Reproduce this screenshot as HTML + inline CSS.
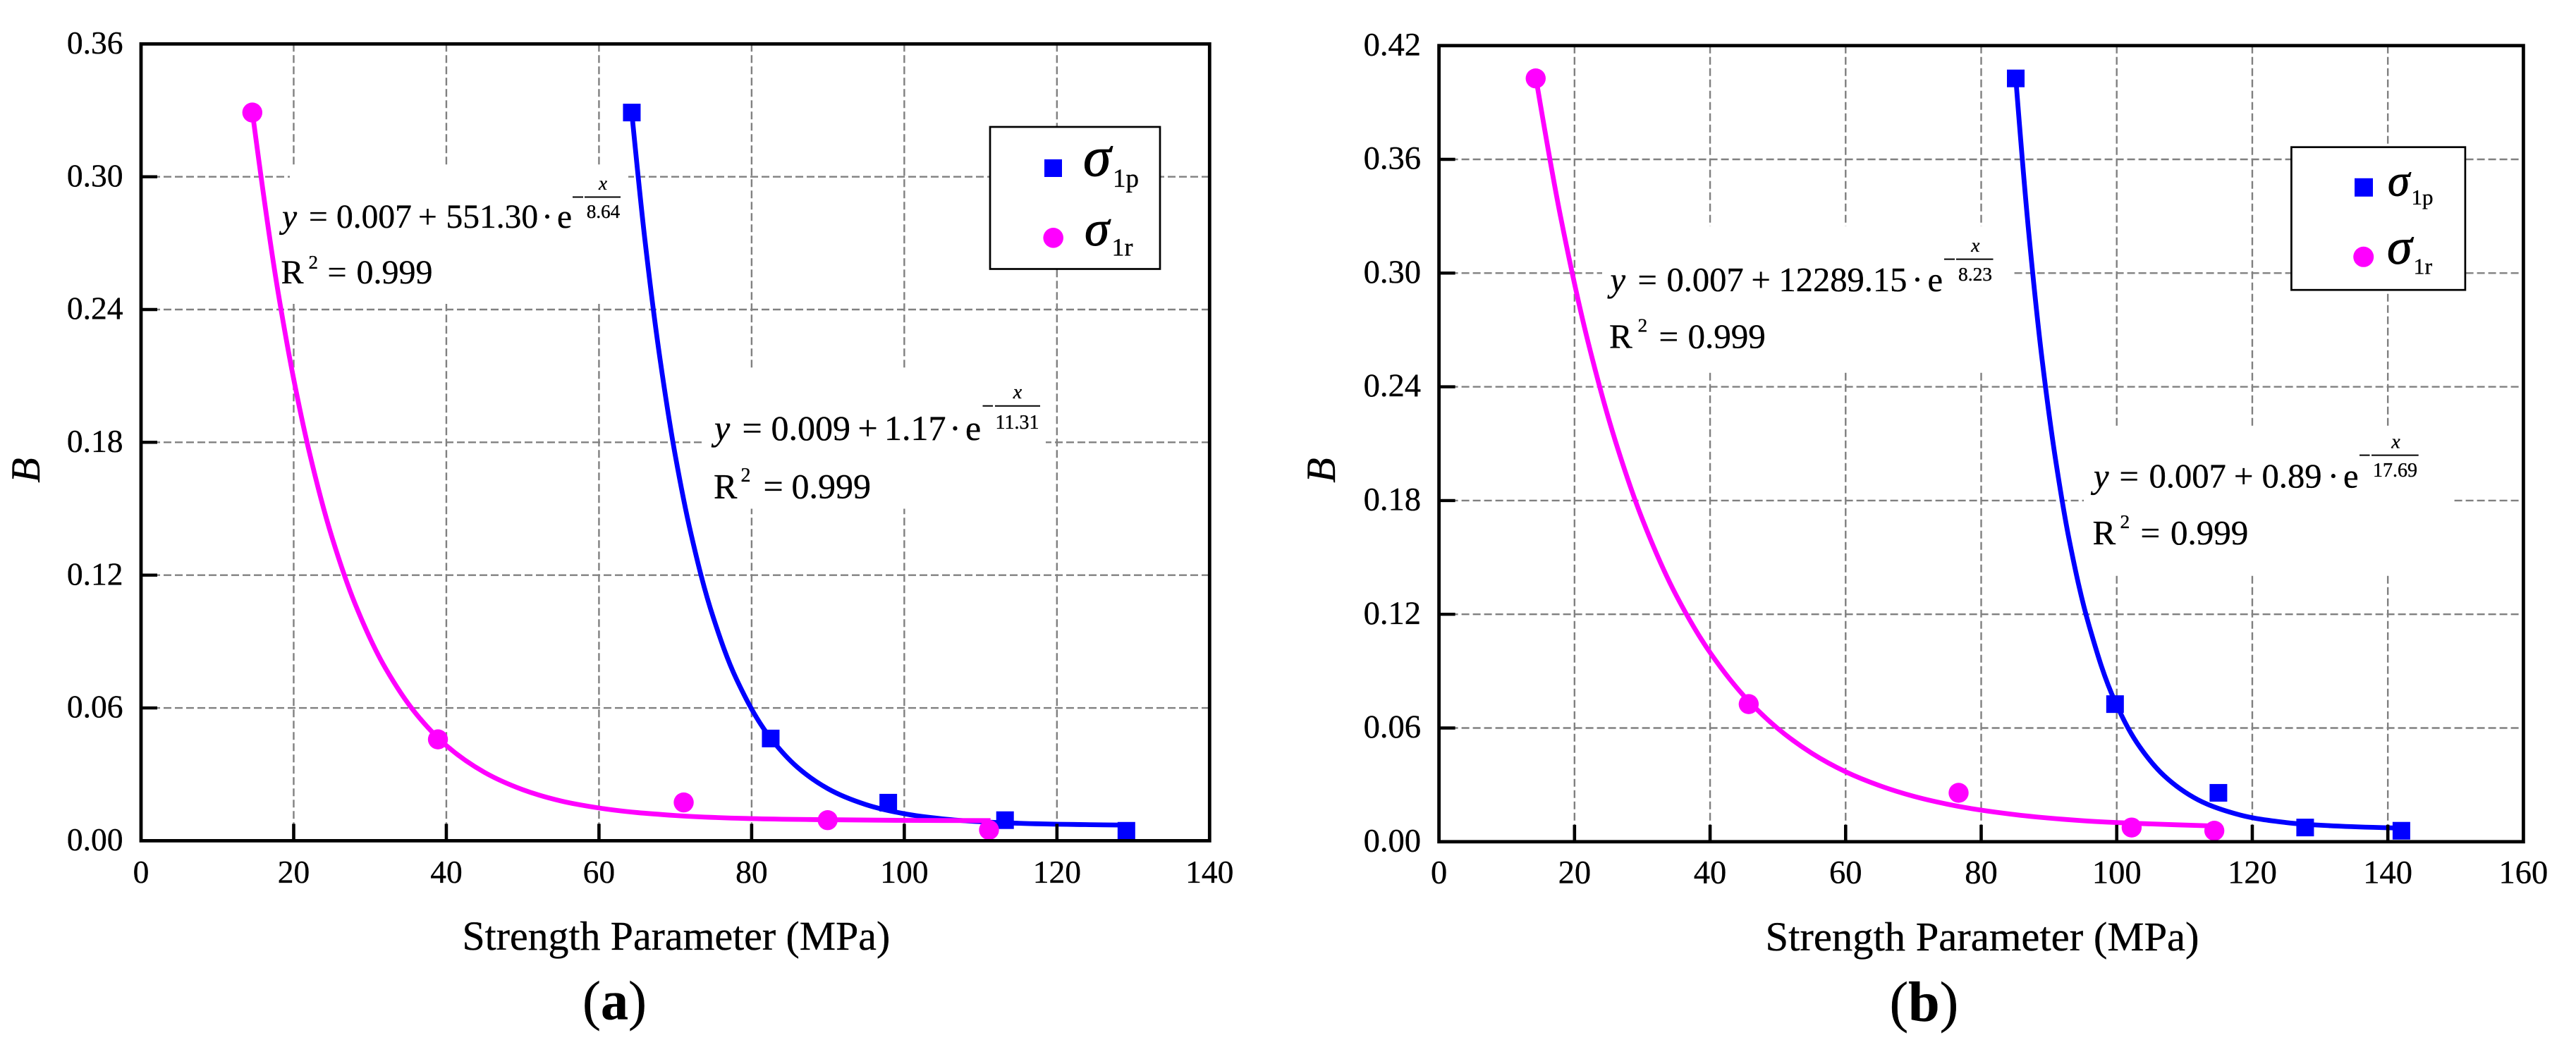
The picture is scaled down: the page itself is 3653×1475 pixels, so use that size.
<!DOCTYPE html>
<html lang="en">
<head>
<meta charset="utf-8">
<title>Strength Parameter versus B</title>
<style>
html,body{margin:0;padding:0;background:#fff;width:3653px;height:1475px;overflow:hidden}
svg{display:block;position:absolute;left:0;top:0}
text{font-family:"Liberation Serif",serif;fill:#000;stroke:#000;stroke-width:0.35px}
.it{font-style:italic}
.bd{font-weight:bold}
.sg{stroke-width:0.9px}
</style>
</head>
<body>
<svg xmlns="http://www.w3.org/2000/svg" width="3653" height="1475" viewBox="0 0 3653 1475">
<rect x="0" y="0" width="3653" height="1475" fill="#fff"/>

<g id="chart-a">
  <g id="grid-a"></g>
  <rect x="411" y="238" width="480" height="193" fill="#fff"/>
  <rect x="998" y="521.5" width="485" height="200" fill="#fff"/>
  <g id="series-a"></g>
  <g id="axes-a"></g>

  <g>
    <text x="400" y="323" font-size="47.5" class="it">y</text>
    <text x="438" y="323" font-size="47.5">=</text>
    <text x="477" y="323" font-size="47.5">0.007</text>
    <text x="593" y="323" font-size="47.5">+</text>
    <text x="632.5" y="323" font-size="47.5">551.30</text>
    <text x="776" y="323" font-size="47.5" text-anchor="middle">·</text>
    <text x="790" y="323" font-size="47.5">e</text>
    <line x1="812" y1="279.5" x2="827" y2="279.5" stroke="#000" stroke-width="2"/>
    <line x1="829" y1="279.5" x2="880" y2="279.5" stroke="#000" stroke-width="2"/>
    <text x="855" y="269" font-size="27" text-anchor="middle" class="it">x</text>
    <text x="855.5" y="309" font-size="27" text-anchor="middle">8.64</text>
  </g>
  <g>
    <text x="398.5" y="402" font-size="48">R</text>
    <text x="437.5" y="381" font-size="27">2</text>
    <text x="464.5" y="402" font-size="48">=</text>
    <text x="505.5" y="402" font-size="48">0.999</text>
  </g>

  <g>
    <text x="1013" y="624" font-size="50" class="it">y</text>
    <text x="1052.5" y="624" font-size="50">=</text>
    <text x="1093.5" y="624" font-size="50">0.009</text>
    <text x="1216.5" y="624" font-size="50">+</text>
    <text x="1254" y="624" font-size="50">1.17</text>
    <text x="1354.5" y="624" font-size="50" text-anchor="middle">·</text>
    <text x="1369" y="624" font-size="50">e</text>
    <line x1="1393.5" y1="575.7" x2="1408" y2="575.7" stroke="#000" stroke-width="2"/>
    <line x1="1411" y1="575.7" x2="1475" y2="575.7" stroke="#000" stroke-width="2"/>
    <text x="1443" y="565" font-size="28" text-anchor="middle" class="it">x</text>
    <text x="1442.5" y="608" font-size="28" text-anchor="middle">11.31</text>
  </g>
  <g>
    <text x="1012" y="706.5" font-size="50">R</text>
    <text x="1050.5" y="683" font-size="28">2</text>
    <text x="1082.5" y="706.5" font-size="50">=</text>
    <text x="1122.5" y="706.5" font-size="50">0.999</text>
  </g>

  <g>
    <rect x="1404" y="180" width="241" height="201.5" fill="#fff" stroke="#000" stroke-width="2.7"/>
    <g>
      <rect x="1481" y="226" width="25" height="25" fill="#0000ff"/>
      <text x="1536" y="249" font-size="80" class="it sg">σ</text>
      <text x="1578" y="265" font-size="37">1p</text>
    </g>
    <g>
      <circle cx="1493.7" cy="337.3" r="14.3" fill="#ff00ff"/>
      <text x="1538" y="348" font-size="71" class="it sg">σ</text>
      <text x="1576.5" y="362.7" font-size="36">1r</text>
    </g>
  </g>

  <text transform="translate(56,667) rotate(-90)" font-size="58" text-anchor="middle" class="it">B</text>
  <text x="655.5" y="1347" font-size="57.8">Strength Parameter (MPa)</text>
  <text x="826" y="1445.5" font-size="78">(<tspan class="bd">a</tspan>)</text>
</g>

<g id="chart-b">
  <g id="grid-b"></g>
  <rect x="2272" y="321" width="583" height="207.5" fill="#fff"/>
  <rect x="2955" y="604" width="525" height="208.7" fill="#fff"/>
  <g id="series-b"></g>
  <g id="axes-b"></g>

  <g>
    <text x="2283.5" y="413" font-size="48.5" class="it">y</text>
    <text x="2322.5" y="413" font-size="48.5">=</text>
    <text x="2363.5" y="413" font-size="48.5">0.007</text>
    <text x="2483.5" y="413" font-size="48.5">+</text>
    <text x="2522.5" y="413" font-size="48.5">12289.15</text>
    <text x="2719" y="413" font-size="48.5" text-anchor="middle">·</text>
    <text x="2733.5" y="413" font-size="48.5">e</text>
    <line x1="2757" y1="367.6" x2="2772" y2="367.6" stroke="#000" stroke-width="2"/>
    <line x1="2774" y1="367.6" x2="2826.5" y2="367.6" stroke="#000" stroke-width="2"/>
    <text x="2801.3" y="357" font-size="27.4" text-anchor="middle" class="it">x</text>
    <text x="2801" y="397.8" font-size="27.4" text-anchor="middle">8.23</text>
  </g>
  <g>
    <text x="2282" y="493.6" font-size="49">R</text>
    <text x="2322.5" y="470.5" font-size="27.4">2</text>
    <text x="2352.5" y="493.6" font-size="49">=</text>
    <text x="2393.5" y="493.6" font-size="49">0.999</text>
  </g>

  <g>
    <text x="2969" y="691.4" font-size="48.6" class="it">y</text>
    <text x="3005.5" y="691.4" font-size="48.6">=</text>
    <text x="3047.5" y="691.4" font-size="48.6">0.007</text>
    <text x="3168" y="691.4" font-size="48.6">+</text>
    <text x="3207.5" y="691.4" font-size="48.6">0.89</text>
    <text x="3308.8" y="691.4" font-size="48.6" text-anchor="middle">·</text>
    <text x="3323" y="691.4" font-size="48.6">e</text>
    <line x1="3346" y1="645.6" x2="3360.5" y2="645.6" stroke="#000" stroke-width="2"/>
    <line x1="3363" y1="645.6" x2="3429.7" y2="645.6" stroke="#000" stroke-width="2"/>
    <text x="3397.5" y="635.7" font-size="28" text-anchor="middle" class="it">x</text>
    <text x="3396.5" y="675.8" font-size="28" text-anchor="middle">17.69</text>
  </g>
  <g>
    <text x="2967.5" y="771.9" font-size="49">R</text>
    <text x="3006.5" y="749" font-size="27.4">2</text>
    <text x="3035.5" y="771.9" font-size="49">=</text>
    <text x="3078" y="771.9" font-size="49">0.999</text>
  </g>

  <g>
    <rect x="3249.4" y="208.7" width="246.5" height="202.5" fill="#fff" stroke="#000" stroke-width="2.7"/>
    <g>
      <rect x="3339" y="252.8" width="26" height="26" fill="#0000ff"/>
      <text x="3386" y="277.3" font-size="63" class="it sg">σ</text>
      <text x="3419.5" y="290" font-size="31">1p</text>
    </g>
    <g>
      <circle cx="3351.7" cy="364.3" r="14.5" fill="#ff00ff"/>
      <text x="3385" y="374" font-size="72" class="it sg">σ</text>
      <text x="3422.5" y="388.3" font-size="32">1r</text>
    </g>
  </g>

  <text transform="translate(1893,667) rotate(-90)" font-size="58" text-anchor="middle" class="it">B</text>
  <text x="2503.5" y="1348" font-size="58.6">Strength Parameter (MPa)</text>
  <text x="2679.5" y="1448" font-size="80">(<tspan class="bd">b</tspan>)</text>
</g>
</svg>

<script>
// Chart (a) data
const xTicksA = [0, 20, 40, 60, 80, 100, 120, 140];
const xTickLabelsA = ['0', '20', '40', '60', '80', '100', '120', '140'];
const yTicksA = [0, 0.06, 0.12, 0.18, 0.24, 0.30, 0.36];
const yTickLabelsA = ['0.00', '0.06', '0.12', '0.18', '0.24', '0.30', '0.36'];
const blueXA = [64.3, 82.5, 97.9, 113.2, 129.1];
const blueYA = [0.329, 0.0462, 0.0172, 0.0093, 0.0045];
const magentaXA = [14.58, 38.9, 71.1, 89.96, 111.1];
const magentaYA = [0.329, 0.0458, 0.0173, 0.0093, 0.0049];
const blueFitXA = [64.3, 66, 68, 70, 72, 75, 78, 82.5, 86, 90, 95, 100, 105, 110, 115, 129];
const blueFitYA = [0.329, 0.272, 0.2176, 0.174, 0.1395, 0.1006, 0.0731, 0.0463, 0.0332, 0.0235, 0.0163, 0.0122, 0.0099, 0.0086, 0.0079, 0.0071];
const magentaFitXA = [14.6, 18, 20, 22, 25, 28, 32, 36, 40, 45, 50, 55, 60, 70, 80, 90, 100, 111.3];
const magentaFitYA = [0.329, 0.247, 0.2086, 0.1763, 0.1373, 0.1074, 0.0781, 0.0575, 0.043, 0.0309, 0.0231, 0.018, 0.0148, 0.0114, 0.01, 0.0095, 0.0092, 0.0091];

// Chart (b) data
const xTicksB = [0, 20, 40, 60, 80, 100, 120, 140, 160];
const xTickLabelsB = ['0', '20', '40', '60', '80', '100', '120', '140', '160'];
const yTicksB = [0, 0.06, 0.12, 0.18, 0.24, 0.30, 0.36, 0.42];
const yTickLabelsB = ['0.00', '0.06', '0.12', '0.18', '0.24', '0.30', '0.36', '0.42'];
const blueXB = [85.1, 99.75, 115.0, 127.8, 142.0];
const blueYB = [0.4027, 0.0726, 0.0258, 0.0075, 0.0058];
const magentaXB = [14.27, 45.7, 76.67, 102.2, 114.4];
const magentaYB = [0.4027, 0.0726, 0.0258, 0.0075, 0.0058];
const blueFitXB = [85.1, 87, 89, 91, 93, 96, 99.75, 103, 107, 112, 118, 125, 133, 142];
const blueFitYB = [0.403, 0.322, 0.254, 0.201, 0.159, 0.113, 0.074, 0.0521, 0.0348, 0.0221, 0.0143, 0.0101, 0.0082, 0.0072];
const magentaFitXB = [14.3, 18, 22, 26, 30, 35, 40, 45.7, 50, 55, 60, 65, 70, 76, 85, 95, 105, 114.5];
const magentaFitYB = [0.403, 0.3287, 0.2636, 0.2117, 0.1702, 0.13, 0.0998, 0.0742, 0.0597, 0.0467, 0.0369, 0.0296, 0.024, 0.0191, 0.0143, 0.0111, 0.0094, 0.0083];

const SVG_NS = 'http://www.w3.org/2000/svg';

function make(tag, parent, attrs, content) {
  const el = document.createElementNS(SVG_NS, tag);
  for (const key in attrs) el.setAttribute(key, attrs[key]);
  if (content !== undefined) el.textContent = content;
  parent.appendChild(el);
  return el;
}

// Chord-length Catmull-Rom: keeps unevenly spaced readings free of kinks.
function tangent(a, b, c) {
  const d1 = Math.hypot(b[0] - a[0], b[1] - a[1]) || 1;
  const d2 = Math.hypot(c[0] - b[0], c[1] - b[1]) || 1;
  const w = d1 + d2;
  return [
    ((b[0] - a[0]) / d1 * d2 + (c[0] - b[0]) / d2 * d1) / w,
    ((b[1] - a[1]) / d1 * d2 + (c[1] - b[1]) / d2 * d1) / w
  ];
}

function smoothPath(pts) {
  let d = 'M' + pts[0][0].toFixed(2) + ' ' + pts[0][1].toFixed(2);
  for (let i = 0; i < pts.length - 1; i++) {
    const p0 = pts[Math.max(0, i - 1)];
    const p1 = pts[i];
    const p2 = pts[i + 1];
    const p3 = pts[Math.min(pts.length - 1, i + 2)];
    const len = Math.hypot(p2[0] - p1[0], p2[1] - p1[1]);
    const m1 = tangent(p0, p1, p2);
    const m2 = tangent(p1, p2, p3);
    const c1x = p1[0] + m1[0] * len / 3;
    const c1y = p1[1] + m1[1] * len / 3;
    const c2x = p2[0] - m2[0] * len / 3;
    const c2y = p2[1] - m2[1] * len / 3;
    d += 'C' + c1x.toFixed(2) + ' ' + c1y.toFixed(2) + ' ' + c2x.toFixed(2) + ' ' + c2y.toFixed(2) + ' ' + p2[0].toFixed(2) + ' ' + p2[1].toFixed(2);
  }
  return d;
}

function drawChart(c) {
  const sx = v => c.left + (v - c.xTicks[0]) / (c.xTicks[c.xTicks.length - 1] - c.xTicks[0]) * (c.right - c.left);
  const sy = v => c.bottom - (v - c.yTicks[0]) / (c.yTicks[c.yTicks.length - 1] - c.yTicks[0]) * (c.bottom - c.top);
  const grid = document.getElementById('grid-' + c.id);
  const series = document.getElementById('series-' + c.id);
  const axes = document.getElementById('axes-' + c.id);

  c.xTicks.forEach((t, i) => {
    if (i > 0 && i < c.xTicks.length - 1) {
      const gl = make('line', grid, {x1: sx(t), x2: sx(t), y1: c.top, y2: c.bottom, stroke: '#808080', 'stroke-width': 2.4, 'stroke-dasharray': '11 5'});
      
      
    }
  });
  c.yTicks.forEach((t, i) => {
    if (i > 0 && i < c.yTicks.length - 1) {
      const gl = make('line', grid, {x1: c.left, x2: c.right, y1: sy(t), y2: sy(t), stroke: '#808080', 'stroke-width': 2.4, 'stroke-dasharray': '11 5'});
      
      
    }
  });

  const fitB = make('path', series, {d: smoothPath(c.blueFitX.map((x, i) => [sx(x), sy(c.blueFitY[i])])), fill: 'none', stroke: '#0000ff', 'stroke-width': 6.8, 'stroke-linejoin': 'round'});
  
  
  const fitM = make('path', series, {d: smoothPath(c.magentaFitX.map((x, i) => [sx(x), sy(c.magentaFitY[i])])), fill: 'none', stroke: '#ff00ff', 'stroke-width': 6.8, 'stroke-linejoin': 'round'});
  
  

  c.blueX.forEach((x, i) => {
    const m = make('rect', series, {x: sx(x) - 12.5, y: sy(c.blueY[i]) - 12.5, width: 25, height: 25, fill: '#0000ff'});
    
    
  });
  c.magentaX.forEach((x, i) => {
    const m = make('circle', series, {cx: sx(x), cy: sy(c.magentaY[i]), r: 14.2, fill: '#ff00ff'});
    
    
  });

  const frame = make('rect', axes, {x: c.left, y: c.top, width: c.right - c.left, height: c.bottom - c.top, fill: 'none', stroke: '#000', 'stroke-width': 4.8});
  
  

  c.xTicks.forEach((t, i) => {
    if (i > 0 && i < c.xTicks.length - 1) {
      const tk = make('line', axes, {x1: sx(t), x2: sx(t), y1: c.bottom, y2: c.bottom - 24, stroke: '#000', 'stroke-width': 4.6});
      
      
    }
    const lb = make('text', axes, {x: sx(t), y: c.xLabelY, 'font-size': c.tickFont, 'text-anchor': 'middle'}, c.xLabels[i]);
    
    
  });
  c.yTicks.forEach((t, i) => {
    if (i > 0 && i < c.yTicks.length - 1) {
      const tk = make('line', axes, {x1: c.left, x2: c.left + 23, y1: sy(t), y2: sy(t), stroke: '#000', 'stroke-width': 4.4});
      
      
    }
    const lb = make('text', axes, {x: c.yLabelX, y: sy(t) + 13.6, 'font-size': c.tickFont, 'text-anchor': 'end'}, c.yLabels[i]);
    
    
  });
}

drawChart({
  id: 'a', left: 200, right: 1715.3, top: 62.3, bottom: 1192.4,
  xTicks: xTicksA, xLabels: xTickLabelsA, yTicks: yTicksA, yLabels: yTickLabelsA,
  xLabelY: 1252, yLabelX: 174.5, tickFont: 45.5,
  blueX: blueXA, blueY: blueYA, magentaX: magentaXA, magentaY: magentaYA,
  blueFitX: blueFitXA, blueFitY: blueFitYA, magentaFitX: magentaFitXA, magentaFitY: magentaFitYA
});
drawChart({
  id: 'b', left: 2040.6, right: 3578.4, top: 64.7, bottom: 1193.8,
  xTicks: xTicksB, xLabels: xTickLabelsB, yTicks: yTicksB, yLabels: yTickLabelsB,
  xLabelY: 1252.4, yLabelX: 2015, tickFont: 46.5,
  blueX: blueXB, blueY: blueYB, magentaX: magentaXB, magentaY: magentaYB,
  blueFitX: blueFitXB, blueFitY: blueFitYB, magentaFitX: magentaFitXB, magentaFitY: magentaFitYB
});
</script>
</body>
</html>
